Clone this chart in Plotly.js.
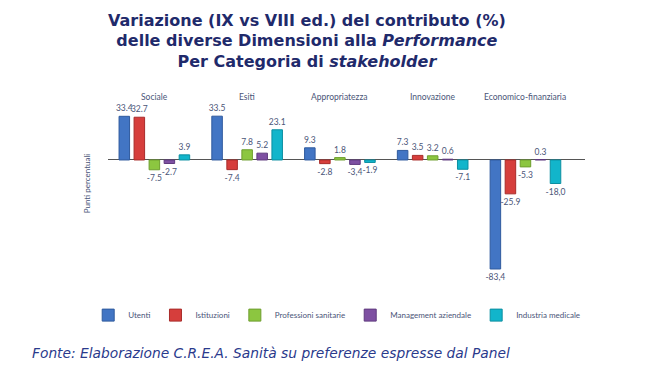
<!DOCTYPE html>
<html><head><meta charset="utf-8">
<script src="https://cdn.plot.ly/plotly-3.0.1.min.js"></script>
<style>body{margin:0;background:#fff}#c{width:660px;height:365px}</style>
</head><body><div id="c"></div>
<script>
const categories = ["Sociale","Esiti","Appropriatezza","Innovazione","Economico-finanziaria"];
const utenti = [33.4, 33.5, 9.3, 7.3, -83.4];
const istituzioni = [32.7, -7.4, -2.8, 3.5, -25.9];
const professioni = [-7.5, 7.8, 1.8, 3.2, -5.3];
const management = [-2.7, 5.2, -3.4, 0.6, 0.3];
const industria = [3.9, 23.1, -1.9, -7.1, -18.0];
const utentiLabels = ["33.4","33.5","9.3","7.3","-83,4"];
const istituzioniLabels = ["32.7","-7.4","-2.8","3.5","-25.9"];
const professioniLabels = ["-7.5","7.8","1.8","3.2","-5.3"];
const managementLabels = ["-2.7","5.2","-3,4","0.6","0.3"];
const industriaLabels = ["3.9","23.1","-1.9","-7.1","-18,0"];
const seriesNames = ["Utenti","Istituzioni","Professioni sanitarie","Management aziendale","Industria medicale"];

const colors = ["#4275C4","#D63E3C","#8CC640","#7E50A2","#12B5CB"];
const lines = ["#2F5A9E","#A82C2A","#6E9E2E","#5F3A7E","#0B8FA1"];
const vals = [utenti, istituzioni, professioni, management, industria];
const labs = [utentiLabels, istituzioniLabels, professioniLabels, managementLabels, industriaLabels];
const txtColor = "#4a5578";
const font = "Lato, 'Open Sans', sans-serif";

const traces = vals.map((v,i)=>({
  type:"bar", name:seriesNames[i], x:categories, y:v,
  text:labs[i], textposition:"outside", constraintext:"none", cliponaxis:false,
  textfont:{size:8.5, color:txtColor, family:font},
  marker:{color:colors[i], line:{color:lines[i], width:1}},
  hoverinfo:"none"
}));

const layout = {
  width:660, height:365,
  margin:{l:20, r:20, t:92, b:90},
  paper_bgcolor:"#fff", plot_bgcolor:"#fff",
  barmode:"group", bargap:0.19, bargroupgap:0.3,
  font:{family:font, color:txtColor},
  title:{
    text:"Variazione (IX vs VIII ed.) del contributo (%)<br>delle diverse Dimensioni alla <i>Performance</i><br>Per Categoria di <i>stakeholder</i>",
    font:{family:"'DejaVu Sans', sans-serif", size:16, color:"#1F2A6B", weight:"bold"},
    xref:"container", x:0.465, xanchor:"center", yref:"container", y:0.93, yanchor:"top"
  },
  xaxis:{domain:[0.1419, 0.911], showticklabels:false, showgrid:false, zeroline:false, showline:false, ticks:"", range:[-0.5,4.64]},
  yaxis:{range:[-88,52], showticklabels:false, showgrid:false, ticks:"", showline:false,
    zeroline:true, zerolinecolor:"#555", zerolinewidth:1,
    title:{text:"Punti percentuali", font:{size:8, color:txtColor, family:font}, standoff:15}},
  showlegend:true,
  legend:{orientation:"h", x:0.11, y:-0.14, xanchor:"left", yanchor:"top",
    font:{size:8, color:txtColor, family:font}, itemwidth:30, tracegroupgap:0},
  annotations: categories.map((c,i)=>({
    xref:"x", yref:"y", x:c, y:48, text:c, showarrow:false,
    font:{size:8.5, color:txtColor, family:font}, yanchor:"middle"
  })).concat([{
    xref:"paper", yref:"paper", x:0.016, y:-0.425, xanchor:"left", yanchor:"middle",
    text:"<i>Fonte: Elaborazione C.R.E.A. Sanità su preferenze espresse dal Panel</i>",
    showarrow:false, font:{size:13.8, color:"#2A3A8C", family:"'DejaVu Sans', sans-serif"}
  }])
};
Plotly.newPlot("c", traces, layout, {staticPlot:true, displayModeBar:false});
</script></body></html>
